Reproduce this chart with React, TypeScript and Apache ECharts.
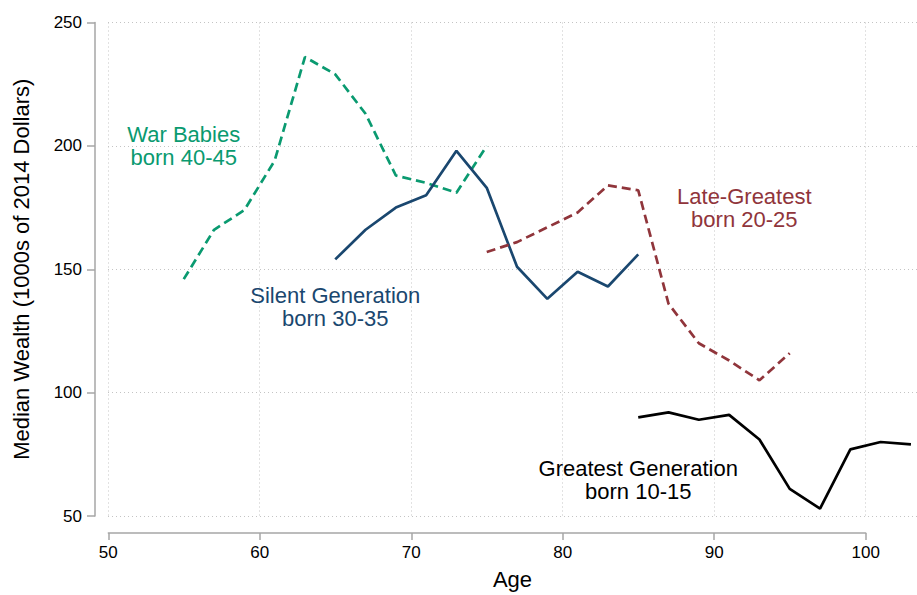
import React, { useEffect, useRef } from "react";
import * as echarts from "echarts";

const FONT = "'Liberation Sans', Arial, sans-serif";

const warBabiesAges = [55, 57, 59, 61, 63, 65, 67, 69, 71, 73, 75];
const warBabiesWealth = [146, 166, 174, 194, 236, 229, 213, 188, 185, 181, 200];

const silentAges = [65, 67, 69, 71, 73, 75, 77, 79, 81, 83, 85];
const silentWealth = [154, 166, 175, 180, 198, 183, 151, 138, 149, 143, 156];

const lateGreatestAges = [75, 77, 79, 81, 83, 85, 87, 89, 91, 93, 95];
const lateGreatestWealth = [157, 161, 167, 173, 184, 182, 136, 120, 113, 105, 116];

const greatestAges = [85, 87, 89, 91, 93, 95, 97, 99, 101, 103];
const greatestWealth = [90, 92, 89, 91, 81, 61, 53, 77, 80, 79];

const xTicks = [50, 60, 70, 80, 90, 100];
const yTicks = [50, 100, 150, 200, 250];

const annotationTexts = [
  "War Babies\nborn 40-45",
  "Silent Generation\nborn 30-35",
  "Late-Greatest\nborn 20-25",
  "Greatest Generation\nborn 10-15",
];
const annotationAges = [55, 65, 92, 85];
const annotationWealth = [200, 134.5, 175, 64.5];

const GREEN = "#0a9a70";
const NAVY = "#1a476f";
const MAROON = "#90353b";
const BLACK = "#000000";
const annotationColors = [GREEN, NAVY, MAROON, BLACK];

const zip = (a: number[], b: number[]) => a.map((v, i) => [v, b[i]]);

export default function App() {
  const ref = useRef<HTMLDivElement>(null);
  useEffect(() => {
    if (!ref.current) return;
    const chart = echarts.init(ref.current, null, { renderer: "svg" });
    const gridLine = { show: true, lineStyle: { color: "#c4c4c4", width: 1, type: [1, 3] as any } };
    const option: any = {
      animation: false,
      backgroundColor: "#ffffff",
      textStyle: { fontFamily: FONT },
      grid: [
        { left: 108, right: 0, top: 22.5, bottom: 76.5, containLabel: false },
        { left: 108.3, right: 51.3, top: 22.5, bottom: 76.5, containLabel: false },
      ],
      xAxis: [
        {
          type: "value",
          gridIndex: 0,
          min: 50,
          max: 103.4,
          interval: 10,
          axisLine: { show: false, onZero: false },
          axisTick: { show: false },
          axisLabel: { show: false },
          splitLine: gridLine,
          name: "Age",
          nameLocation: "middle",
          nameGap: 52,
          nameTextStyle: { fontSize: 22, color: "#000", fontFamily: FONT },
        },
        {
          type: "value",
          gridIndex: 1,
          min: 50,
          max: 100,
          interval: 10,
          offset: 14.5,
          position: "bottom",
          axisLine: { show: true, onZero: false, lineStyle: { color: "#a6a6a6", width: 1.5 } },
          axisTick: { show: true, length: 7, lineStyle: { color: "#a6a6a6", width: 1.5 } },
          axisLabel: { show: true, fontSize: 17, color: "#000", margin: 11, fontFamily: FONT },
          splitLine: { show: false },
          data: xTicks,
        },
      ],
      yAxis: [
        {
          type: "value",
          gridIndex: 0,
          min: 50,
          max: 250,
          interval: 50,
          offset: 13,
          axisLine: { show: true, onZero: false, lineStyle: { color: "#a6a6a6", width: 1.5 } },
          axisTick: { show: true, length: 8, lineStyle: { color: "#a6a6a6", width: 1.5 } },
          axisLabel: { show: true, fontSize: 17, color: "#000", margin: 13, fontFamily: FONT },
          splitLine: gridLine,
          name: "Median Wealth (1000s of 2014 Dollars)",
          nameLocation: "middle",
          nameRotate: 90,
          nameGap: 63,
          nameTextStyle: { fontSize: 22, color: "#000", fontFamily: FONT },
          data: yTicks,
        },
        { type: "value", gridIndex: 1, show: false, min: 0, max: 1 },
      ],
      series: [
        {
          type: "line",
          name: "War Babies",
          xAxisIndex: 0,
          yAxisIndex: 0,
          data: zip(warBabiesAges, warBabiesWealth),
          showSymbol: false,
          symbol: "none",
          lineStyle: { color: GREEN, width: 2.7, type: [9, 5] },
        },
        {
          type: "line",
          name: "Silent Generation",
          xAxisIndex: 0,
          yAxisIndex: 0,
          data: zip(silentAges, silentWealth),
          showSymbol: false,
          symbol: "none",
          lineStyle: { color: NAVY, width: 2.7, type: "solid" },
        },
        {
          type: "line",
          name: "Late-Greatest",
          xAxisIndex: 0,
          yAxisIndex: 0,
          data: zip(lateGreatestAges, lateGreatestWealth),
          showSymbol: false,
          symbol: "none",
          lineStyle: { color: MAROON, width: 2.7, type: [9, 5] },
        },
        {
          type: "line",
          name: "Greatest Generation",
          xAxisIndex: 0,
          yAxisIndex: 0,
          data: zip(greatestAges, greatestWealth),
          showSymbol: false,
          symbol: "none",
          lineStyle: { color: BLACK, width: 2.7, type: "solid" },
        },
        {
          type: "scatter",
          name: "labels",
          xAxisIndex: 0,
          yAxisIndex: 0,
          symbolSize: 1,
          itemStyle: { color: "rgba(0,0,0,0)" },
          silent: true,
          data: annotationTexts.map((t, i) => ({
            value: [annotationAges[i], annotationWealth[i]],
            label: {
              show: true,
              position: "inside",
              formatter: t,
              color: annotationColors[i],
              textBorderWidth: 0,
              textBorderColor: "transparent",
              opacity: 1,
              fontSize: 22,
              lineHeight: 23,
              align: "center",
              fontFamily: FONT,
            },
          })),
        },
      ],
    };
    chart.setOption(option);
    return () => chart.dispose();
  }, []);
  return (
    <div
      ref={ref}
      style={{ position: "fixed", left: 0, top: 0, width: 917, height: 595, background: "#fff" }}
    />
  );
}
